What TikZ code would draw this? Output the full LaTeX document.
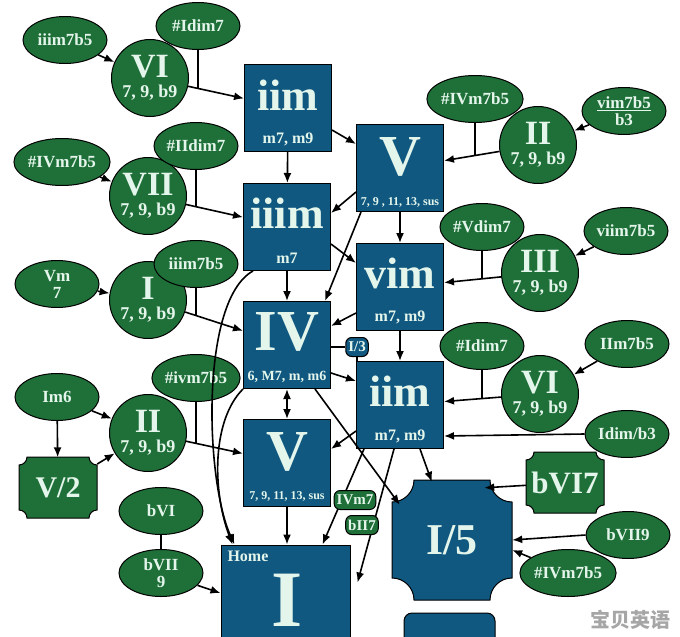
\documentclass[tikz,border=0pt]{standalone}
\usepackage{fontspec}
\setmainfont{Liberation Serif}
\newfontfamily\cjk{Noto Sans CJK SC}
\usetikzlibrary{arrows.meta,shapes.geometric,calc}
\definecolor{bx}{RGB}{16,88,128}
\definecolor{gn}{RGB}{31,112,56}
\definecolor{tx}{RGB}{228,246,236}
\newcommand{\concavepath}[6]{% l t R b r color
  \filldraw[fill=#6,draw=black,line width=1pt]
  ({#1+#5},#2) -- ({#3-#5},#2) .. controls ({#3-#5},{#2+0.55*#5}) and ({#3-0.55*#5},{#2+#5}) .. (#3,{#2+#5})
  -- (#3,{#4-#5}) .. controls ({#3-0.55*#5},{#4-#5}) and ({#3-#5},{#4-0.55*#5}) .. ({#3-#5},#4)
  -- ({#1+#5},#4) .. controls ({#1+#5},{#4-0.55*#5}) and ({#1+0.55*#5},{#4-#5}) .. (#1,{#4-#5})
  -- (#1,{#2+#5}) .. controls ({#1+0.55*#5},{#2+#5}) and ({#1+#5},{#2+0.55*#5}) .. cycle;}
\begin{document}
\begin{tikzpicture}[x=1pt,y=-1pt,
 box/.style={rectangle,draw=black,line width=1pt,fill=bx,minimum width=87pt,minimum height=87pt,inner sep=0},
 circ/.style={circle,draw=black,line width=1pt,fill=gn,minimum size=77pt,inner sep=0,text=tx,font=\bfseries,align=center},
 ell/.style={ellipse,draw=black,line width=1pt,fill=gn,minimum width=84pt,minimum height=47pt,inner sep=0,text=tx,font=\bfseries\fontsize{17}{17}\selectfont,align=center},
 pill/.style={rounded corners=6pt,draw=black,line width=1pt,fill=gn,text=tx,font=\bfseries\fontsize{15}{15}\selectfont,inner sep=2.5pt,minimum height=19pt},
 ghost/.style={draw=none,inner sep=0},
 big/.style={text=tx,font=\bfseries\fontsize{44}{44}\selectfont},
 huge/.style={text=tx,font=\bfseries\fontsize{58}{58}\selectfont},
 sub/.style={text=tx,font=\bfseries\fontsize{16}{16}\selectfont},
 tiny/.style={text=tx,font=\bfseries\fontsize{12}{12}\selectfont},
 arr/.style={-{Latex[length=10pt,width=8pt]},line width=1.6pt},
 ln/.style={line width=1.6pt}]
\useasboundingbox[fill=white] (0,0) rectangle (680,637);
\newcommand{\cc}[2]{\fontsize{34}{30}\selectfont #1\\[6pt]\fontsize{18}{20}\selectfont #2}
% blue boxes
\node[box] (b1) at (288,108) {};
\node[box] (b2) at (400,168) {};
\node[box] (b3) at (287,227) {};
\node[box] (b4) at (400,287) {};
\node[box] (b5) at (287,345) {};
\node[box] (b6) at (400,405) {};
\node[box] (b7) at (287,463) {};
\node[box,minimum width=129pt,minimum height=140pt] (home) at (285.5,615) {};
\node[draw=black,line width=1pt,fill=bx,rounded corners=8pt,minimum width=91pt,minimum height=50pt] (bot) at (449.5,638) {};
\node[big] (b1t) at (288,95) {iim};
\node[sub] (b1s) at (288,139) {m7, m9};
\node[huge] (b2t) at (400,157) {V};
\node[tiny] (b2s) at (400,202) {7, 9 , 11, 13, sus};
\node[big] (b3t) at (287,213) {iiim};
\node[sub] (b3s) at (287,258) {m7};
\node[big] (b4t) at (400,273) {vim};
\node[sub] (b4s) at (400,317) {m7, m9};
\node[huge] (b5t) at (287,332) {IV};
\node[tiny,font=\bfseries\fontsize{14}{14}\selectfont] (b5s) at (287,377) {6, M7, m, m6};
\node[big] (b6t) at (400,391) {iim};
\node[sub] (b6s) at (400,436) {m7, m9};
\node[huge] (b7t) at (287,452) {V};
\node[tiny] (b7s) at (287,496) {7, 9, 11, 13, sus};
\node[sub,anchor=west] (homel) at (224,556) {Home};
\node[text=tx,font=\bfseries\fontsize{80}{80}\selectfont] (homet) at (287,600) {I};
% concave shapes
\concavepath{392}{480}{512}{600}{22}{bx}
\node[ghost,minimum width=120pt,minimum height=120pt,text=tx,font=\bfseries\fontsize{44}{44}\selectfont] (i5) at (452,540) {I/5};
\concavepath{19}{457}{97}{518}{8}{gn}
\node[ghost,minimum width=78pt,minimum height=61pt,text=tx,font=\bfseries\fontsize{30}{30}\selectfont] (v2) at (58,488) {V/2};
\concavepath{526}{452}{604}{513}{8}{gn}
\node[ghost,minimum width=78pt,minimum height=61pt,text=tx,font=\bfseries\fontsize{31}{31}\selectfont] (b6s7) at (565,483) {bVI7};
% circles
\node[circ] (c1) at (150,78) {\cc{VI}{7, 9, b9}};
\node[circ] (c2) at (148,196) {\cc{VII}{7, 9, b9}};
\node[circ] (c3) at (148,300) {\cc{I}{7, 9, b9}};
\node[circ] (c4) at (148,433) {\cc{II}{7, 9, b9}};
\node[circ] (c5) at (538,145) {\cc{II}{7, 9, b9}};
\node[circ] (c6) at (540,273) {\cc{III}{7, 9, b9}};
\node[circ] (c7) at (540,394) {\cc{VI}{7, 9, b9}};
% ellipses
\node[ell] (e1) at (65,40) {iiim7b5};
\node[ell] (e2) at (198,26) {\#Idim7};
\node[ell] (e3) at (196,146) {\#IIdim7};
\node[ell] (e4) at (62,162) {\#IVm7b5};
\node[ell] (e5) at (57,284) {Vm\\7};
\node[ell] (e6) at (196,264) {iiim7b5};
\node[ell] (e7) at (196,378) {\#ivm7b5};
\node[ell] (e8) at (57,397) {Im6};
\node[ell] (e9) at (161,511) {bVI};
\node[ell] (e10) at (161,573) {bVII\\9};
\node[ell] (e11) at (475,99) {\#IVm7b5};
\node[ell] (e12) at (624,111) {\underline{vim7b5}\\b3};
\node[ell] (e13) at (482,227) {\#Vdim7};
\node[ell] (e14) at (626,231) {viim7b5};
\node[ell] (e15) at (482,346) {\#Idim7};
\node[ell] (e16) at (627,344) {IIm7b5};
\node[ell] (e17) at (627,434) {Idim/b3};
\node[ell] (e18) at (628,535) {bVII9};
\node[ell] (e19) at (568,573) {\#IVm7b5};
% small pills
\node[pill,fill=bx] (i3) at (357,347) {I/3};
% connectors
\draw[arr] (e1) -- (c1);
\draw[arr] (c1) -- (b1);
\coordinate (j1) at ($(c1)!0.35!(b1)$);
\draw[ln] (e2.south) -- (e2.south |- j1);
\draw[arr] (e4) -- (c2);
\draw[arr] (c2) -- (b3);
\coordinate (j2) at ($(c2)!0.35!(b3)$);
\draw[ln] (e3.south) -- (e3.south |- j2);
\draw[arr] (e5) -- (c3);
\draw[arr] (c3) -- (b5);
\coordinate (j3) at ($(c3)!0.35!(b5)$);
\draw[ln] (e6.south) -- (e6.south |- j3);
\draw[arr] (e8) -- (c4);
\draw[arr] (e8) -- (v2);
\draw[arr] (v2) -- (c4);
\draw[arr] (c4) -- (b7);
\coordinate (j4) at ($(c4)!0.33!(b7)$);
\draw[ln] (e7.south) -- (e7.south |- j4);
\draw[ln] (e9) -- (e10);
\draw[arr] (e10) -- (home);
\draw[arr] (c5) -- (b2);
\coordinate (j5) at ($(c5)!0.45!(b2)$);
\draw[ln] (e11.south) -- (e11.south |- j5);
\draw[arr] (e12) -- (c5);
\draw[arr] (c6) -- (b4);
\coordinate (j6) at ($(c6)!0.42!(b4)$);
\draw[ln] (e13.south) -- (e13.south |- j6);
\draw[arr] (e14) -- (c6);
\draw[arr] (c7) -- (b6);
\coordinate (j7) at ($(c7)!0.42!(b6)$);
\draw[ln] (e15.south) -- (e15.south |- j7);
\draw[arr] (e16) -- (c7);
\draw[arr] (e17.west) -- ($(b6.south east)+(0,-13)$);
\draw[arr] (b6s7) -- ($(i5.north east)+(-28,8)$);
\draw[arr] (e18.west) -- (i5.east);
\draw[arr] (e19) -- ($(i5.east)+(0,10)$);
% centre network
\draw[arr] ($(b1.south east)+(0,-22)$) -- ($(b2.north west)+(0,20)$);
\draw[arr] (b1) -- (b3);
\draw[arr] ($(b2.south west)+(0,-20)$) -- ($(b3.north east)+(0,30)$);
\draw[arr] ($(b2.south west)+(5,0)$) -- ($(b5.north east)+(-6,0)$);
\draw[arr] (b2) -- (b4);
\draw[arr] ($(b3.east)+(0,17)$) -- ($(b4.north west)+(0,20)$);
\draw[arr] (b3) -- (b5);
\draw[arr] ($(b4.south west)+(0,-18)$) -- ($(b5.north east)+(0,25)$);
\draw[arr] (b4) -- (b6);
\draw[arr] ($(b5.south east)+(0,-16)$) -- ($(b6.north west)+(0,20)$);
\draw[{Latex[length=10pt,width=8pt]}-{Latex[length=10pt,width=8pt]},line width=1.6pt] (b5) -- (b7);
\draw[arr] ($(b5.south east)+(-16,0)$) -- ($(i5.north west)+(8,25)$);
\draw[arr] ($(b6.south west)+(0,-18)$) -- ($(b7.north east)+(0,30)$);
\draw[arr] ($(b6.south)+(20,0)$) -- ($(i5.north west)+(40,2)$);
\draw[arr] ($(b6.south west)+(8,0)$) -- ($(home.north east)+(-28,0)$);
\draw[arr] ($(b6.south west)+(38,0)$) -- ($(home.north east)+(7,38)$);
\draw[arr] (b7) -- (b7 |- home.north);
\draw[arr] ($(b3.south west)+(10,0)$) .. controls (200,300) and (205,480) .. ($(home.north west)+(14,0)$);
\draw[arr] ($(b5.south west)+(0,0)$) .. controls (212,420) and (212,490) .. ($(home.north west)+(12,0)$);
\draw[ln] (b5.east |- i3) -- (i3.west);
\draw[ln] (i3.south) -- (i3 |- b6.north);
\node[pill] (p1) at (355,500) {IVm7};
\node[pill] (p2) at (362,525) {bII7};
\node[text=gray!70,font=\cjk\bfseries\fontsize{20}{20}\selectfont] (wm) at (630,620) {宝贝英语};
\end{tikzpicture}
\end{document}
